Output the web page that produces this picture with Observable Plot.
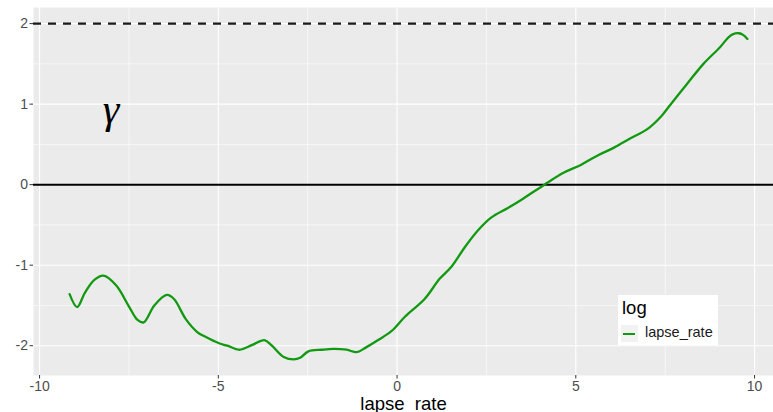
<!DOCTYPE html>
<html>
<head>
<meta charset="utf-8">
<script src="https://cdn.jsdelivr.net/npm/d3@7"></script>
<script src="https://cdn.jsdelivr.net/npm/@observablehq/plot@0.6"></script>
<style>
  html, body { margin: 0; padding: 0; background: #fff; }
  #wrap { position: relative; width: 773px; height: 412px; overflow: hidden; font-family: "Liberation Sans", Arial, sans-serif; }
  #legend { position: absolute; left: 618px; top: 295px; width: 100px; height: 50px; background: #fff; }
  #legend .title { position: absolute; left: 4px; top: 2px; font-size: 18.5px; color: #000; }
  #legend .key { position: absolute; left: 3px; top: 30px; width: 17px; height: 17px; background: #f2f2f2; }
  #legend .key i { position: absolute; left: 2px; top: 7.5px; width: 12px; height: 2.2px; background: #119911; }
  #legend .lab { position: absolute; left: 27px; top: 29px; font-size: 14.5px; color: #1a1a1a; }
</style>
</head>
<body>
<div id="wrap"></div>
<script>
// ---- data ----
const lapseX = [-9.16, -8.95, -8.73, -8.46, -8.21, -7.86, -7.49, -7.26, -7.09, -6.79, -6.44, -6.24,
  -5.91, -5.59, -5.36, -4.98, -4.75, -4.41, -4.05, -3.71, -3.50, -3.17, -2.89, -2.71, -2.48, -2.10,
  -1.78, -1.41, -1.13, -0.90, -0.53, -0.16, 0.22, 0.77, 1.19, 1.52, 1.89, 2.26, 2.63, 3.10, 3.47,
  4.12, 4.67, 5.14, 5.60, 6.07, 6.53, 7.00, 7.41, 7.64, 8.11, 8.57, 9.04, 9.27, 9.40, 9.56, 9.68, 9.80];
const lapseY = [-1.36, -1.52, -1.34, -1.18, -1.13, -1.25, -1.52, -1.68, -1.71, -1.50, -1.37, -1.42,
  -1.67, -1.83, -1.89, -1.97, -2.00, -2.05, -1.99, -1.93, -2.00, -2.14, -2.17, -2.15, -2.07, -2.05,
  -2.04, -2.05, -2.08, -2.03, -1.93, -1.82, -1.64, -1.42, -1.17, -1.02, -0.78, -0.57, -0.41, -0.29, -0.19,
  0.00, 0.15, 0.245, 0.36, 0.46, 0.575, 0.69, 0.86, 0.99, 1.25, 1.50, 1.71, 1.83, 1.87, 1.88, 1.86, 1.81];
const seriesName = "lapse_rate";
const legendTitle = "log";
const xTitle = "lapse_rate";
const xTicks = [-10, -5, 0, 5, 10];
const xMinor = [-7.5, -2.5, 2.5, 7.5];
const yTicks = [-2, -1, 0, 1, 2];
const yMinor = [-1.5, -0.5, 0.5, 1.5];
const dashedLevel = [2];
const zeroLevel = [0];
const gammaLabel = [{x: -8.0, y: 0.93, text: "γ"}];

const data = lapseX.map((x, i) => ({x, y: lapseY[i], series: seriesName}));
const green = "#119911";

const chart = Plot.plot({
  width: 773,
  height: 412,
  marginLeft: 33,
  marginRight: 0,
  marginTop: 7,
  marginBottom: 37,
  style: {fontFamily: "'Liberation Sans', Arial, sans-serif", background: "transparent", overflow: "visible"},
  x: {domain: [-10.17, 10.53]},
  y: {domain: [-2.37, 2.2]},
  marks: [
    Plot.frame({fill: "#EBEBEB", stroke: null}),
    Plot.gridX(xMinor, {stroke: "#fff", strokeOpacity: 1, strokeWidth: 0.6}),
    Plot.gridY(yMinor, {stroke: "#fff", strokeOpacity: 1, strokeWidth: 0.6}),
    Plot.gridX(xTicks, {stroke: "#fff", strokeOpacity: 1, strokeWidth: 1.1}),
    Plot.gridY(yTicks, {stroke: "#fff", strokeOpacity: 1, strokeWidth: 1.1}),
    Plot.ruleY(dashedLevel, {stroke: "#1a1a1a", strokeWidth: 2.2, strokeDasharray: "8,7"}),
    Plot.ruleY(zeroLevel, {stroke: "#000", strokeWidth: 2}),
    Plot.line(data, {x: "x", y: "y", stroke: green, strokeWidth: 2.3, curve: "catmull-rom"}),
    Plot.text(gammaLabel, {x: "x", y: "y", text: "text", fontSize: 42, fontStyle: "italic", fontFamily: "'Liberation Serif', 'DejaVu Serif', serif", fill: "#000"}),
    Plot.axisX(xTicks, {tickSize: 3.5, tickPadding: 2, fontSize: 14, fill: "#4d4d4d", stroke: "#333", label: null, tickFormat: d => String(d)}),
    Plot.axisY(yTicks, {tickSize: 3.5, tickPadding: 2, fontSize: 14, fill: "#4d4d4d", stroke: "#333", label: null, tickFormat: d => String(d)}),
    Plot.text([xTitle], {frameAnchor: "bottom", dy: 29, fontSize: 18.5, fill: "#000", lineAnchor: "middle"})
  ]
});

const wrap = document.getElementById("wrap");
wrap.appendChild(chart);
const legend = document.createElement("div");
legend.id = "legend";
legend.innerHTML = `<div class="title">${legendTitle}</div><div class="key"><i></i></div><div class="lab">${seriesName}</div>`;
wrap.appendChild(legend);
</script>
</body>
</html>
